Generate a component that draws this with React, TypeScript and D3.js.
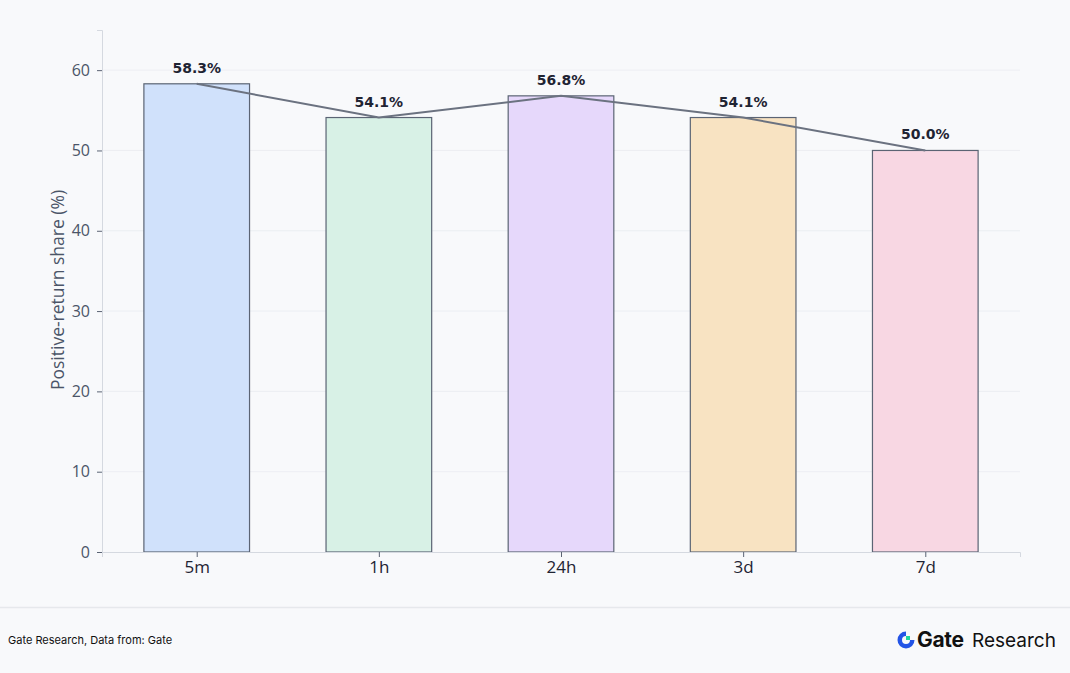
import { useEffect, useRef } from 'react'
import * as d3 from 'd3'

const categories = ['5m', '1h', '24h', '3d', '7d']
const shares = [58.3, 54.1, 56.8, 54.1, 50.0]
const barColors = ['#d0e1fb', '#d8f1e6', '#e6d8fb', '#f8e3c2', '#f8d7e3']
const yTicks = [0, 10, 20, 30, 40, 50, 60]

const W = 1070
const H = 673

export default function App() {
  const ref = useRef<SVGSVGElement>(null)

  useEffect(() => {
    const svg = d3.select(ref.current)
    svg.selectAll('*').remove()

    const margin = { top: 30, left: 102, right: 1020, bottom: 552 }

    const x = d3.scaleLinear().domain([-0.52, 4.52]).range([margin.left, margin.right])
    const y = d3.scaleLinear().domain([0, 65]).range([margin.bottom, margin.top])
    const barW = x(0.29) - x(0)

    svg.append('rect').attr('width', W).attr('height', H).attr('fill', '#f8f9fb')

    // grid
    svg
      .append('g')
      .selectAll('line')
      .data(yTicks.slice(1))
      .join('line')
      .attr('x1', margin.left)
      .attr('x2', margin.right)
      .attr('y1', (d) => y(d))
      .attr('y2', (d) => y(d))
      .attr('stroke', '#e8ebf0')
      .attr('stroke-width', 0.8)

    // bars
    svg
      .append('g')
      .selectAll('rect')
      .data(shares)
      .join('rect')
      .attr('x', (_, i) => x(i) - barW)
      .attr('y', (d) => y(d))
      .attr('width', barW * 2)
      .attr('height', (d) => y(0) - y(d))
      .attr('fill', (_, i) => barColors[i])
      .attr('stroke', '#5b6474')
      .attr('stroke-width', 1.2)

    // trend line
    const line = d3
      .line<number>()
      .x((_, i) => x(i))
      .y((d) => y(d))
    svg
      .append('path')
      .datum(shares)
      .attr('d', line)
      .attr('fill', 'none')
      .attr('stroke', '#6b7280')
      .attr('stroke-width', 2)

    // value labels
    svg
      .append('g')
      .selectAll('text')
      .data(shares)
      .join('text')
      .attr('x', (_, i) => x(i))
      .attr('y', (d) => y(d) - 11)
      .attr('text-anchor', 'middle')
      .attr('font-family', 'DejaVu Sans')
      .attr('font-weight', 'bold')
      .attr('font-size', 14)
      .attr('fill', '#1f2433')
      .text((d) => d.toFixed(1) + '%')

    // axes
    const yAxis = d3.axisLeft(y).tickValues(yTicks).tickSize(5).tickPadding(7)
    const gy = svg.append('g').attr('transform', `translate(${margin.left},0)`).call(yAxis)
    gy.select('.domain').attr('stroke', '#d5d9e0')
    gy.selectAll('.tick line').attr('stroke', '#5b6474')
    gy.selectAll('.tick text')
      .attr('font-family', 'Open Sans')
      .attr('font-size', 16)
      .attr('fill', '#4b5568')

    const xAxis = d3
      .axisBottom(x)
      .tickValues(d3.range(categories.length))
      .tickFormat((d) => categories[d as number])
      .tickSize(5)
      .tickPadding(4)
    const gx = svg.append('g').attr('transform', `translate(0,${margin.bottom})`).call(xAxis)
    gx.select('.domain').attr('stroke', '#d5d9e0')
    gx.selectAll('.tick line').attr('stroke', '#5b6474')
    gx.selectAll('.tick text')
      .attr('font-family', 'Open Sans')
      .attr('font-size', 17)
      .attr('fill', '#1f2433')

    svg
      .append('text')
      .attr('transform', `translate(64,290) rotate(-90)`)
      .attr('text-anchor', 'middle')
      .attr('font-family', 'Open Sans')
      .attr('font-size', 17.5)
      .attr('fill', '#4b5568')
      .text('Positive-return share (%)')

    // footer
    svg
      .append('line')
      .attr('x1', 0)
      .attr('x2', W)
      .attr('y1', 607.5)
      .attr('y2', 607.5)
      .attr('stroke', '#e6e8ec')
      .attr('stroke-width', 1.5)

    svg
      .append('text')
      .attr('x', 8)
      .attr('y', 644)
      .attr('font-family', 'Inter')
      .attr('font-size', 11)
      .attr('fill', '#111')
      .text('Gate Research, Data from: Gate')

    const logo = svg.append('g').attr('transform', 'translate(906,640)')
    const arc = d3
      .arc()
      .innerRadius(4)
      .outerRadius(8.5)
      .startAngle(Math.PI * 0.5)
      .endAngle(Math.PI * 2)
    logo.append('path').attr('d', arc({} as any) as string).attr('fill', '#2354e6')
    logo.append('rect').attr('x', 0).attr('y', -4).attr('width', 4).attr('height', 4).attr('fill', '#1fd6a0')

    svg
      .append('text')
      .attr('x', 917)
      .attr('y', 647)
      .attr('font-family', 'Inter')
      .attr('font-weight', 'bold')
      .attr('font-size', 21)
      .attr('fill', '#111')
      .attr('letter-spacing', -0.3)
      .text('Gate')
    svg
      .append('text')
      .attr('x', 972)
      .attr('y', 647)
      .attr('font-family', 'Inter')
      .attr('font-size', 19)
      .attr('fill', '#111')
      .text('Research')
  }, [])

  return (
    <svg
      ref={ref}
      width={W}
      height={H}
      style={{ position: 'absolute', left: 0, top: 0, display: 'block' }}
    />
  )
}
